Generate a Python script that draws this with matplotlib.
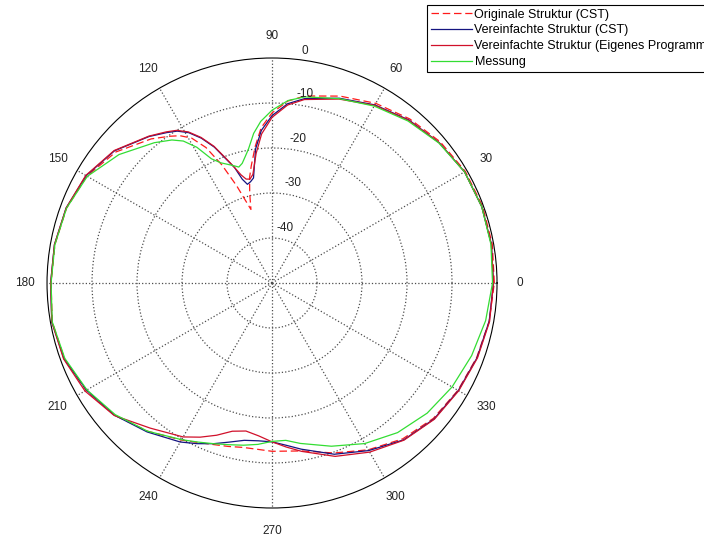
import numpy as np
import matplotlib
matplotlib.use("Agg")
import matplotlib.pyplot as plt

plt.rcParams['font.family'] = ['Liberation Sans', 'DejaVu Sans']

# ---- data (dB) ----
angles_deg = [0, 10, 20, 30, 40, 50, 60, 70, 80, 85, 90, 94, 97, 100, 102, 104, 106, 108,
              110, 113, 116, 119, 122, 125, 130, 140, 150, 160, 170, 180, 190, 200, 210,
              220, 230, 240, 245, 250, 255, 260, 265, 270, 275, 280, 290, 300, 310, 320,
              330, 340, 350, 360]

orig_cst = [-0.6, -0.3, -0.2, -0.4, -1.2, -2.4, -3.9, -5.8, -7.8, -9.4, -12.2, -15.4, -19.4,
            -23.5, -26.0, -29.5, -33.0, -30.5, -27.0, -21.5, -16.5, -13.2, -11.4, -10.2, -8.2,
            -4.7, -2.5, -1.4, -1.0, -0.9, -0.4, -0.9, -2.3, -4.3, -7.0, -9.7, -10.9, -11.8,
            -12.4, -12.9, -12.9, -12.6, -12.5, -12.1, -9.8, -7.2, -4.8, -3.2, -2.3, -1.6,
            -1.0, -0.6]

vereinf_cst = [-0.8, -0.5, -0.4, -0.6, -1.5, -2.7, -4.3, -6.3, -8.4, -10.0, -12.8, -16.0,
               -20.0, -26.3, -27.0, -27.4, -26.0, -23.0, -21.0, -17.2, -14.2, -11.8, -10.2,
               -9.2, -7.5, -4.3, -2.3, -1.3, -0.9, -0.8, -0.3, -0.8, -2.4, -4.3, -6.8, -9.2,
               -10.6, -12.0, -13.4, -14.5, -14.8, -14.7, -13.8, -12.5, -9.5, -7.0, -4.5,
               -3.0, -2.2, -1.5, -1.0, -0.8]

vereinf_eigen = [-0.8, -0.5, -0.4, -0.6, -1.5, -2.8, -4.4, -6.5, -8.6, -10.3, -13.2, -16.8,
                 -21.0, -25.5, -26.4, -26.2, -25.0, -23.0, -20.8, -17.0, -14.0, -11.6, -10.0,
                 -9.0, -7.4, -4.2, -2.2, -1.3, -0.9, -0.8, -0.3, -0.7, -2.0, -4.2, -7.9,
                 -10.5, -12.2, -14.0, -15.9, -16.6, -15.9, -14.7, -13.4, -12.0, -9.0, -6.6,
                 -4.4, -2.9, -2.1, -1.4, -0.9, -0.8]

messung = [-1.0, -0.6, -0.4, -0.6, -1.6, -3.0, -4.6, -6.4, -8.0, -9.3, -11.6, -14.0, -16.5,
           -19.8, -21.3, -22.6, -23.2, -22.6, -22.0, -21.0, -19.3, -15.5, -12.8, -11.2, -9.3,
           -5.6, -2.6, -1.4, -1.0, -0.9, -0.4, -1.0, -2.5, -4.5, -7.0, -9.8, -11.0, -12.0,
           -12.8, -13.4, -14.0, -14.8, -14.9, -13.8, -11.4, -8.8, -6.6, -5.0, -3.8, -2.8,
           -1.8, -1.0]

series_labels = ['Originale Struktur (CST)', 'Vereinfachte Struktur (CST)',
                 'Vereinfachte Struktur (Eigenes Programm)', 'Messung']
ring_values = [-10, -20, -30, -40]
angle_ticks = list(range(0, 360, 30))
db_min, db_max = -50, 0

# ---- figure ----
fig = plt.figure(figsize=(7.04, 5.39), dpi=100)
ax = fig.add_axes([0.0668, 0.0575, 0.6392, 0.8349], projection='polar')

theta = np.deg2rad(angles_deg)
styles = [dict(color='#ff1a1a', ls=(0, (6, 3)), lw=0.9),
          dict(color='#141480', ls='-', lw=0.9),
          dict(color='#d0102a', ls='-', lw=0.9),
          dict(color='#33dd33', ls='-', lw=0.9)]
handles = []
for vals, lab, st in zip([orig_cst, vereinf_cst, vereinf_eigen, messung], series_labels, styles):
    h, = ax.plot(theta, np.array(vals) - db_min, label=lab, **st)
    handles.append(h)

ax.set_ylim(0, db_max - db_min)
ax.set_yticks([v - db_min for v in ring_values])
ax.set_xticks(np.deg2rad(angle_ticks))
ax.set_xticklabels([])
ax.set_yticklabels([])
ax.grid(True, ls=':', color='0.3', lw=0.9)
ax.spines['polar'].set_color('black')
ax.spines['polar'].set_linewidth(0.8)

for a in angle_ticks:
    ax.text(np.deg2rad(a), 55, str(a), ha='center', va='center', fontsize=8.5, color='#222222')

ring_label_pos = {0: (81.9, 52.1), -10: (80.0, 42.6), -20: (79.8, 32.5), -30: (78.0, 22.7), -40: (76.7, 12.6)}
for v in [0] + ring_values:
    ang, rr = ring_label_pos[v]
    ax.text(np.deg2rad(ang), rr, str(v), ha='center', va='center', fontsize=8.5, color='#222222')

leg = fig.legend(handles=handles, loc='upper left', bbox_to_anchor=(427 / 704, 1 - 5 / 539),
                 fontsize=9, frameon=True, fancybox=False, edgecolor='black', framealpha=1,
                 handlelength=3.3, handletextpad=0.2, borderaxespad=0, labelspacing=0.3,
                 borderpad=0.3)
leg.get_frame().set_linewidth(0.8)

fig.savefig('out.png', dpi=100)
